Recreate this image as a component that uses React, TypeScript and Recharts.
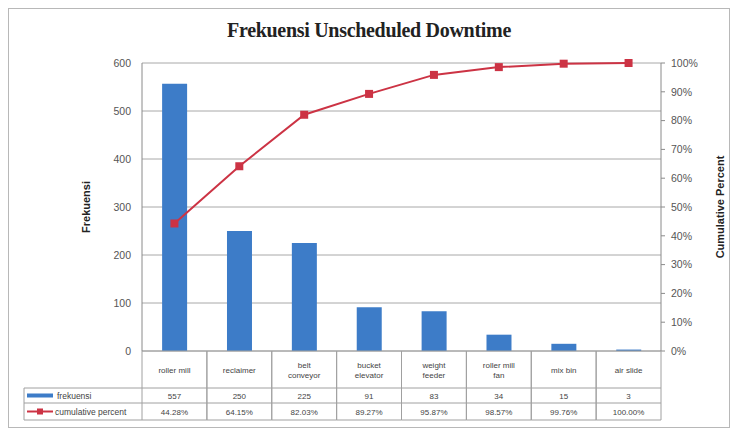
import React from 'react';
import {
  ComposedChart,
  Bar,
  Line,
  XAxis,
  YAxis,
  CartesianGrid,
} from 'recharts';

const categories = [
  'roller mill',
  'reclaimer',
  'belt conveyor',
  'bucket elevator',
  'weight feeder',
  'roller mill fan',
  'mix bin',
  'air slide',
];
const categoryLines = [
  ['roller mill'],
  ['reclaimer'],
  ['belt', 'conveyor'],
  ['bucket', 'elevator'],
  ['weight', 'feeder'],
  ['roller mill', 'fan'],
  ['mix bin'],
  ['air slide'],
];
const frekuensi = [557, 250, 225, 91, 83, 34, 15, 3];
const cumulativePercent = [44.28, 64.15, 82.03, 89.27, 95.87, 98.57, 99.76, 100.0];
const leftTicks = [0, 100, 200, 300, 400, 500, 600];
const rightTicks = [0, 10, 20, 30, 40, 50, 60, 70, 80, 90, 100];

const data = categories.map((name, i) => ({
  name,
  frekuensi: frekuensi[i],
  cumulative: cumulativePercent[i],
}));

const BAR_COLOR = '#3d7cc8';
const LINE_COLOR = '#cc3344';
const GRID = '#a8a8a8';
const TABLE_LINE = '#a0a0a0';
const FONT = '"Liberation Sans", Arial, sans-serif';

const CHART_W = 720;
const CHART_H = 418;
const LEFT_W = 133;
const RIGHT_W = 68;
const PLOT_W = CHART_W - LEFT_W - RIGHT_W;
const BAND = PLOT_W / categories.length;
const HEADER_W = 118;
const ROW1 = 37;
const ROW2 = 15;
const ROW3 = 17;

const TableTick = (props: any) => {
  const { x, y, payload, index } = props;
  const i = index ?? categories.indexOf(payload.value);
  const left = x - BAND / 2;
  const right = x + BAND / 2;
  const lines = categoryLines[i];
  const total = ROW1 + ROW2 + ROW3;
  const textStyle = { fontFamily: FONT, fontSize: 8, fill: '#444' };
  return (
    <g>
      <line x1={left} y1={y} x2={left} y2={y + total} stroke={TABLE_LINE} />
      <line x1={right} y1={y} x2={right} y2={y + total} stroke={TABLE_LINE} />
      <line x1={left} y1={y + ROW1} x2={right} y2={y + ROW1} stroke={TABLE_LINE} />
      <line x1={left} y1={y + ROW1 + ROW2} x2={right} y2={y + ROW1 + ROW2} stroke={TABLE_LINE} />
      <line x1={left} y1={y + total} x2={right} y2={y + total} stroke={TABLE_LINE} />
      {lines.map((t, k) => (
        <text
          key={k}
          x={x}
          y={y + ROW1 / 2 + 3 + (k - (lines.length - 1) / 2) * 10}
          textAnchor="middle"
          {...textStyle}
        >
          {t}
        </text>
      ))}
      <text x={x} y={y + ROW1 + ROW2 / 2 + 3} textAnchor="middle" {...textStyle}>
        {frekuensi[i]}
      </text>
      <text x={x} y={y + ROW1 + ROW2 + ROW3 / 2 + 3} textAnchor="middle" {...textStyle}>
        {cumulativePercent[i].toFixed(2) + '%'}
      </text>
      {i === 0 && (
        <g>
          <line x1={left - HEADER_W} y1={y + ROW1} x2={left} y2={y + ROW1} stroke={TABLE_LINE} />
          <line
            x1={left - HEADER_W}
            y1={y + ROW1 + ROW2}
            x2={left}
            y2={y + ROW1 + ROW2}
            stroke={TABLE_LINE}
          />
          <line x1={left - HEADER_W} y1={y + total} x2={left} y2={y + total} stroke={TABLE_LINE} />
          <line
            x1={left - HEADER_W}
            y1={y + ROW1}
            x2={left - HEADER_W}
            y2={y + total}
            stroke={TABLE_LINE}
          />
          <rect
            x={left - HEADER_W + 3}
            y={y + ROW1 + ROW2 / 2 - 2}
            width={26}
            height={4}
            fill={BAR_COLOR}
          />
          <text x={left - HEADER_W + 33} y={y + ROW1 + ROW2 / 2 + 3} {...textStyle} fontSize={8.5}>
            frekuensi
          </text>
          <line
            x1={left - HEADER_W + 3}
            y1={y + ROW1 + ROW2 + ROW3 / 2}
            x2={left - HEADER_W + 29}
            y2={y + ROW1 + ROW2 + ROW3 / 2}
            stroke={LINE_COLOR}
            strokeWidth={2}
          />
          <rect
            x={left - HEADER_W + 13}
            y={y + ROW1 + ROW2 + ROW3 / 2 - 3}
            width={6}
            height={6}
            fill={LINE_COLOR}
          />
          <text x={left - HEADER_W + 31} y={y + ROW1 + ROW2 + ROW3 / 2 + 3} {...textStyle} fontSize={8.5}>
            cumulative percent
          </text>
        </g>
      )}
    </g>
  );
};

const SquareDot = (props: any) => {
  const { cx, cy } = props;
  if (cx == null || cy == null) return null;
  return <rect x={cx - 4} y={cy - 4} width={8} height={8} fill={LINE_COLOR} />;
};

export default function App() {
  return (
    <div
      style={{
        position: 'relative',
        width: CHART_W + 2,
        height: CHART_H + 2,
        border: '1px solid #b8b8b8',
        boxSizing: 'border-box',
        background: '#fff',
      }}
    >
      <div
        style={{
          position: 'absolute',
          left: 0,
          right: 0,
          top: 10,
          textAlign: 'center',
          fontFamily: '"Liberation Serif", "Times New Roman", serif',
          fontWeight: 'bold',
          fontSize: 20,
          letterSpacing: -0.3,
          color: '#222',
        }}
      >
        Frekuensi Unscheduled Downtime
      </div>
      <ComposedChart
        width={CHART_W}
        height={CHART_H}
        data={data}
        margin={{ top: 54, right: 0, left: 0, bottom: 0 }}
        barCategoryGap="31%"
      >
        <CartesianGrid vertical={false} stroke={GRID} yAxisId="left" />
        <XAxis
          dataKey="name"
          height={CHART_H - 54 - 288}
          interval={0}
          tickSize={0}
          tickMargin={0}
          tickLine={false}
          axisLine={{ stroke: TABLE_LINE }}
          tick={<TableTick />}
        />
        <YAxis
          yAxisId="left"
          width={LEFT_W}
          domain={[0, 600]}
          ticks={leftTicks}
          tickSize={0}
          tickMargin={11}
          tickLine={false}
          axisLine={{ stroke: '#8a8a8a' }}
          tick={{ fontFamily: FONT, fontSize: 10.5, fill: '#555' }}
          label={{
            value: 'Frekuensi',
            angle: -90,
            position: 'insideLeft',
            offset: 77,
            style: { fontFamily: FONT, fontSize: 11, fontWeight: 'bold', fill: '#222', textAnchor: 'middle' },
          }}
        />
        <YAxis
          yAxisId="right"
          orientation="right"
          width={RIGHT_W}
          domain={[0, 100]}
          ticks={rightTicks}
          tickFormatter={(v: number) => v + '%'}
          tickSize={4}
          tickMargin={6}
          tickLine={{ stroke: '#8a8a8a' }}
          axisLine={{ stroke: '#8a8a8a' }}
          tick={{ fontFamily: FONT, fontSize: 10.5, fill: '#555' }}
          label={{
            value: 'Cumulative Percent',
            angle: -90,
            position: 'insideRight',
            offset: 9,
            style: { fontFamily: FONT, fontSize: 11, fontWeight: 'bold', fill: '#222', textAnchor: 'middle' },
          }}
        />
        <Bar yAxisId="left" dataKey="frekuensi" fill={BAR_COLOR} isAnimationActive={false} />
        <Line
          yAxisId="right"
          dataKey="cumulative"
          stroke={LINE_COLOR}
          strokeWidth={2}
          dot={<SquareDot />}
          activeDot={false}
          isAnimationActive={false}
        />
      </ComposedChart>
    </div>
  );
}
